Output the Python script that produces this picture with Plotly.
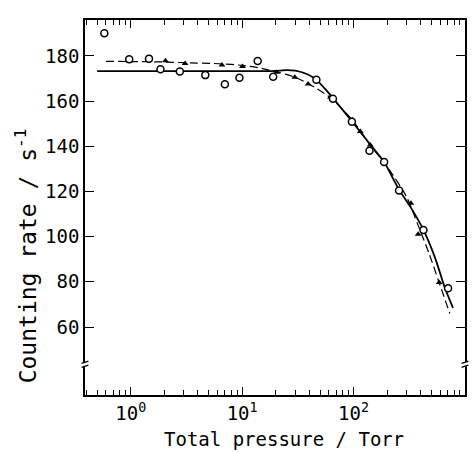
import plotly.graph_objects as go

# ---- data ----
circ_x = [0.58, 0.97, 1.46, 1.85, 2.76, 4.67, 7.0, 9.46, 13.8, 19.0, 46.4, 65.3, 96.6, 139, 188, 256, 424, 705]
circ_y = [190.0, 178.5, 178.8, 174.1, 173.1, 171.5, 167.5, 170.3, 177.8, 170.8, 169.4, 161.0, 150.9, 138.0, 133.0, 120.4, 102.9, 77.2]

tri_x = [0.97, 1.46, 2.05, 3.08, 6.59, 10.07, 20.4, 29.7, 39.1, 62, 98, 115, 141, 327, 380, 586]
tri_y = [177.5, 178.0, 177.9, 176.6, 176.0, 175.3, 172.8, 170.6, 167.6, 161.7, 151.7, 146.5, 140.6, 114.8, 101.1, 79.7]

solid_x = [0.5, 1, 2, 5, 10, 15, 20, 25, 30, 38, 46, 55, 65, 97, 140, 188, 256, 330, 424, 540, 658, 780]
solid_y = [173.3, 173.3, 173.3, 173.3, 173.3, 173.3, 173.4, 173.7, 173.5, 172.0, 169.6, 165.6, 161.5, 151.0, 141.0, 133.0, 120.8, 112.5, 103.0, 90.5, 77.5, 68.5]

dash_x = [0.6, 1, 2, 3, 6.6, 10, 15, 20, 25, 30, 40, 62, 98, 141, 200, 300, 380, 480, 586, 730]
dash_y = [177.6, 177.5, 177.3, 177.0, 176.5, 175.8, 174.5, 173.0, 171.8, 170.5, 167.5, 161.5, 151.5, 140.5, 131.0, 117.5, 105.0, 92.0, 79.7, 66.0]

x_major = [1, 10, 100, 1000]
x_labels = ["10<sup>0</sup>", "10<sup>1</sup>", "10<sup>2</sup>", "10<sup>3</sup>"]
x_minor = [0.4, 0.5, 0.6, 0.7, 0.8, 0.9] + [m * d for d in (1, 10, 100) for m in range(2, 10)]
y_ticks = [60, 80, 100, 120, 140, 160, 180]

FONT = "DejaVu Sans Mono"

fig = go.Figure()
fig.add_trace(go.Scatter(x=solid_x, y=solid_y, mode="lines",
                         line=dict(color="black", width=1.8, shape="spline", smoothing=0.6),
                         hoverinfo="skip"))
fig.add_trace(go.Scatter(x=dash_x, y=dash_y, mode="lines",
                         line=dict(color="black", width=1.2, dash="8px,4px", shape="spline", smoothing=0.7),
                         hoverinfo="skip"))
fig.add_trace(go.Scatter(x=tri_x, y=tri_y, mode="markers",
                         marker=dict(symbol="triangle-up", size=6, color="black")))
fig.add_trace(go.Scatter(x=circ_x, y=circ_y, mode="markers",
                         marker=dict(symbol="circle", size=7, color="white",
                                     line=dict(color="black", width=1.5))))

# axis break marks
shapes = []
for xp in (0, 1):
    shapes.append(dict(type="rect", xref="paper", yref="y", x0=xp - 0.01, x1=xp + 0.01,
                       y0=42.6, y1=44.4, fillcolor="white", line=dict(width=0), layer="above"))
    for yv in (42.6, 44.4):
        shapes.append(dict(type="line", xref="paper", yref="y", x0=xp - 0.009, x1=xp + 0.009,
                           y0=yv - 0.5, y1=yv + 0.5, line=dict(color="black", width=1.3), layer="above"))

fig.update_layout(
    width=474, height=453,
    margin=dict(l=85, r=7, t=20, b=58),
    paper_bgcolor="white", plot_bgcolor="white",
    showlegend=False,
    font=dict(family=FONT, size=19, color="black"),
    shapes=shapes,
    annotations=[
        dict(text="Total pressure / Torr", xref="paper", yref="paper", x=0.524, y=-0.117,
             showarrow=False, font=dict(family=FONT, size=19), xanchor="center", yanchor="middle"),
        dict(text="Counting rate / s<sup>-1</sup>", xref="paper", yref="paper", x=-0.155, y=0.37,
             textangle=-90, showarrow=False, font=dict(family=FONT, size=23),
             xanchor="center", yanchor="middle"),
    ],
)
fig.update_xaxes(type="log", range=[-0.41, 3.0],
                 tickmode="array", tickvals=x_major, ticktext=x_labels,
                 ticks="inside", ticklen=8, tickwidth=1.2, tickcolor="black",
                 minor=dict(tickmode="array", tickvals=x_minor, ticks="inside", ticklen=5,
                            tickwidth=1.2, tickcolor="black", showgrid=False),
                 showline=True, linecolor="black", linewidth=1.6, mirror="ticks",
                 showgrid=False, zeroline=False,
                 tickfont=dict(family=FONT, size=19))
fig.update_yaxes(range=[29.9, 195.9],
                 tickmode="array", tickvals=y_ticks,
                 ticks="inside", ticklen=9, tickwidth=1.2, tickcolor="black",
                 showline=True, linecolor="black", linewidth=1.6, mirror="ticks",
                 showgrid=False, zeroline=False,
                 tickfont=dict(family=FONT, size=19))

fig.write_html("out.html", config={"displayModeBar": False},
               post_script="document.body.style.margin='0';document.body.style.overflow='hidden';")
